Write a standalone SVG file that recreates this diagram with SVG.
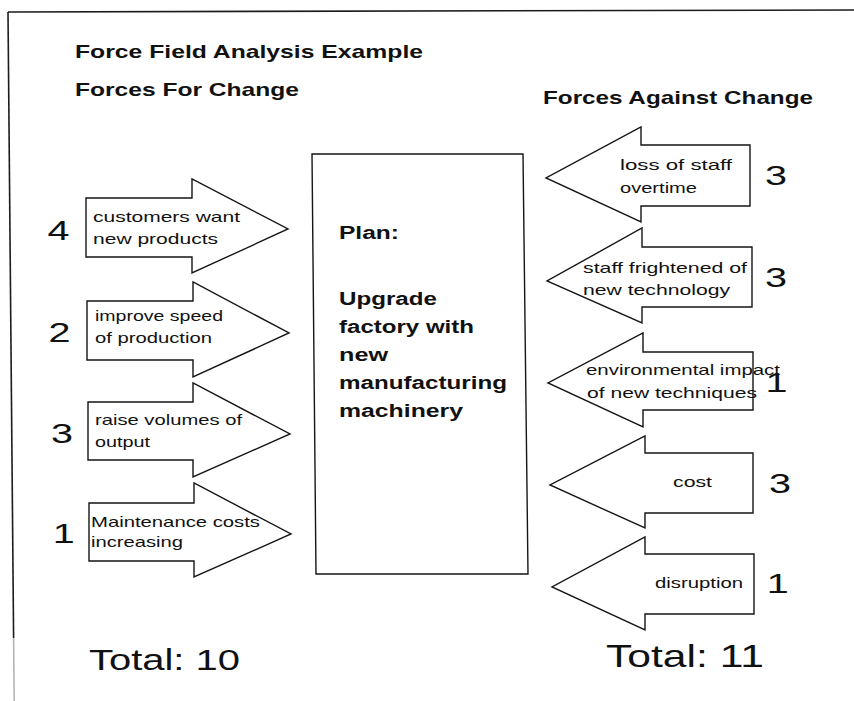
<svg xmlns="http://www.w3.org/2000/svg" width="854" height="701" viewBox="0 0 854 701">
  <style>
    .bg { fill: #ffffff; }
    .frame { fill: none; stroke: #1c1c1c; stroke-width: 1.6; }
    .frame-faint { fill: none; stroke: #b4b4b4; stroke-width: 1.6; }
    .shape { fill: #ffffff; stroke: #151515; stroke-width: 1.4; stroke-linejoin: miter; }
    .head { font-family: "Liberation Sans", Arial, sans-serif; font-weight: bold; font-size: 19px; fill: #111; }
    .plan { font-family: "Liberation Sans", Arial, sans-serif; font-weight: bold; font-size: 18px; fill: #111; }
    .lbl { font-family: "Liberation Sans", Arial, sans-serif; font-size: 15px; fill: #111; }
    .num { font-family: "Liberation Sans", Arial, sans-serif; font-size: 28px; fill: #111; }
    .total { font-family: "Liberation Sans", Arial, sans-serif; fill: #111; }
  </style>

  <rect class="bg" x="0" y="0" width="854" height="701"/>

  <!-- page frame: top rule and left rule -->
  <g id="frame">
    <line class="frame" x1="8" y1="12" x2="854" y2="10"/>
    <line class="frame" x1="8" y1="12" x2="13.6" y2="638"/>
    <line class="frame-faint" x1="13.6" y1="638" x2="14.2" y2="701"/>
  </g>

  <!-- headings -->
  <g id="headings">
    <text class="head" x="75" y="58" textLength="348" lengthAdjust="spacingAndGlyphs">Force Field Analysis Example</text>
    <text class="head" x="75" y="96" textLength="224" lengthAdjust="spacingAndGlyphs">Forces For Change</text>
    <text class="head" x="543" y="104" textLength="270" lengthAdjust="spacingAndGlyphs">Forces Against Change</text>
  </g>

  <!-- central plan box -->
  <g id="plan">
    <polygon class="shape" points="312,154 523,154 528,574 316,574"/>
    <text class="plan" x="339" y="239" textLength="60" lengthAdjust="spacingAndGlyphs">Plan:</text>
    <text class="plan" x="339" y="305" textLength="98" lengthAdjust="spacingAndGlyphs">Upgrade</text>
    <text class="plan" x="339" y="333" textLength="135" lengthAdjust="spacingAndGlyphs">factory with</text>
    <text class="plan" x="339" y="361" textLength="49" lengthAdjust="spacingAndGlyphs">new</text>
    <text class="plan" x="339" y="389" textLength="168" lengthAdjust="spacingAndGlyphs">manufacturing</text>
    <text class="plan" x="339" y="417" textLength="124" lengthAdjust="spacingAndGlyphs">machinery</text>
  </g>

  <!-- forces for change (pointing right) -->
  <g id="for-customers">
    <polygon class="shape" points="86,198 192,198 192,179 288,229 192,273 192,257 86,257"/>
    <text class="lbl" x="93" y="221.5" textLength="147" lengthAdjust="spacingAndGlyphs">customers want</text>
    <text class="lbl" x="93" y="244" textLength="125" lengthAdjust="spacingAndGlyphs">new products</text>
    <text class="num" x="47.5" y="240" textLength="22" lengthAdjust="spacingAndGlyphs">4</text>
  </g>
  <g id="for-speed">
    <polygon class="shape" points="87,301 193,301 193,282 289,333 193,377 193,360 87,360"/>
    <text class="lbl" x="95" y="320.5" textLength="128" lengthAdjust="spacingAndGlyphs">improve speed</text>
    <text class="lbl" x="95" y="343" textLength="117" lengthAdjust="spacingAndGlyphs">of production</text>
    <text class="num" x="48.5" y="342" textLength="22" lengthAdjust="spacingAndGlyphs">2</text>
  </g>
  <g id="for-volumes">
    <polygon class="shape" points="88,402 193,402 193,383 290,434 193,477 193,460 88,460"/>
    <text class="lbl" x="95" y="425" textLength="147" lengthAdjust="spacingAndGlyphs">raise volumes of</text>
    <text class="lbl" x="95" y="446.5" textLength="55" lengthAdjust="spacingAndGlyphs">output</text>
    <text class="num" x="51" y="443" textLength="22" lengthAdjust="spacingAndGlyphs">3</text>
  </g>
  <g id="for-maintenance">
    <polygon class="shape" points="89,503 194,503 194,483 291,534 194,577 194,561 89,561"/>
    <text class="lbl" x="91" y="526.5" textLength="169" lengthAdjust="spacingAndGlyphs">Maintenance costs</text>
    <text class="lbl" x="91" y="546.5" textLength="92" lengthAdjust="spacingAndGlyphs">increasing</text>
    <text class="num" x="52.7" y="543" textLength="22" lengthAdjust="spacingAndGlyphs">1</text>
  </g>

  <!-- forces against change (pointing left) -->
  <g id="against-overtime">
    <polygon class="shape" points="750,145 641,145 641,127 546,178 641,222 641,206 750,206"/>
    <text class="lbl" x="620" y="170" textLength="112" lengthAdjust="spacingAndGlyphs">loss of staff</text>
    <text class="lbl" x="620" y="193" textLength="77" lengthAdjust="spacingAndGlyphs">overtime</text>
    <text class="num" x="765" y="185" textLength="22" lengthAdjust="spacingAndGlyphs">3</text>
  </g>
  <g id="against-fear">
    <polygon class="shape" points="752,247 642,247 642,228 547,281 642,323 642,307 752,307"/>
    <text class="lbl" x="583" y="273" textLength="164" lengthAdjust="spacingAndGlyphs">staff frightened of</text>
    <text class="lbl" x="583" y="295" textLength="147" lengthAdjust="spacingAndGlyphs">new technology</text>
    <text class="num" x="765" y="287" textLength="22" lengthAdjust="spacingAndGlyphs">3</text>
  </g>
  <g id="against-environment">
    <polygon class="shape" points="753,352 643,352 643,333 548,383 643,427 643,410 753,410"/>
    <text class="num" x="765.4" y="392" textLength="22" lengthAdjust="spacingAndGlyphs">1</text>
    <text class="lbl" x="586" y="375" textLength="194" lengthAdjust="spacingAndGlyphs">environmental impact</text>
    <text class="lbl" x="587" y="398" textLength="170" lengthAdjust="spacingAndGlyphs">of new techniques</text>
  </g>
  <g id="against-cost">
    <polygon class="shape" points="753,453 645,453 645,436 550,485 645,528 645,513 753,513"/>
    <text class="lbl" x="673" y="487" textLength="39" lengthAdjust="spacingAndGlyphs">cost</text>
    <text class="num" x="769" y="493" textLength="22" lengthAdjust="spacingAndGlyphs">3</text>
  </g>
  <g id="against-disruption">
    <polygon class="shape" points="754,554 645,554 645,537 552,587 645,630 645,614 754,614"/>
    <text class="lbl" x="655" y="588" textLength="88" lengthAdjust="spacingAndGlyphs">disruption</text>
    <text class="num" x="766.7" y="593" textLength="22" lengthAdjust="spacingAndGlyphs">1</text>
  </g>

  <!-- totals -->
  <g id="totals">
    <text class="total" x="89" y="670" font-size="29" textLength="151" lengthAdjust="spacingAndGlyphs">Total: 10</text>
    <text class="total" x="606" y="667" font-size="32" textLength="158" lengthAdjust="spacingAndGlyphs">Total: 11</text>
  </g>
</svg>
